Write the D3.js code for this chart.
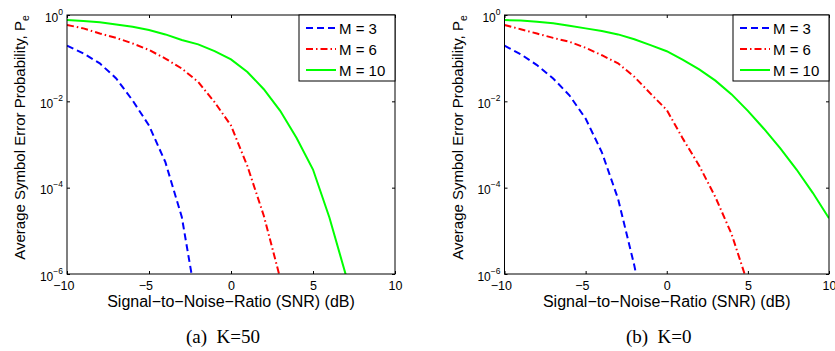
<!DOCTYPE html>
<html>
<head>
<meta charset="utf-8">
<script src="https://cdnjs.cloudflare.com/ajax/libs/d3/7.8.5/d3.min.js"></script>
<style>
    html, body { margin: 0; padding: 0; background: #ffffff; }
    svg { display: block; }
    text { font-family: "Liberation Sans", Arial, Helvetica, sans-serif; fill: #000; }
    .caption { font-family: "Liberation Serif", "Times New Roman", serif; white-space: pre; }
</style>
</head>
<body>
<div id="chart"></div>
<script>
const SNR_DB = [-10, -9, -8, -7, -6, -5, -4, -3, -2, -1, 0, 1, 2, 3, 4, 5, 6, 7, 8, 9, 10];

const X_TICKS = [-10, -5, 0, 5, 10];
const Y_TICKS = [1e-6, 1e-4, 1e-2, 1];
const Y_TICK_EXPONENTS = ['\u22126', '\u22124', '\u22122', '0'];

const SERIES_NAMES = ['M = 3', 'M = 6', 'M = 10'];
const SERIES_COLORS = ['#0000ff', '#ff0000', '#00ff00'];
const SERIES_DASHES = ['7,4', '7,3,1.5,3', null];

const PANEL_CAPTIONS = ['(a)  K=50', '(b)  K=0'];

// symbol error probability, starting at SNR = -10 dB
const K50_M3 = [0.195, 0.129, 0.0759, 0.0339, 0.0105, 2.75e-3, 3.89e-4, 2.09e-5, 1.26e-7];
const K50_M6 = [0.589, 0.490, 0.372, 0.295, 0.219, 0.155, 0.0977, 0.0575, 0.0282, 9.55e-3,
    2.75e-3, 3.16e-4, 2.24e-5, 7.94e-7];
const K50_M10 = [0.766, 0.724, 0.676, 0.603, 0.537, 0.447, 0.355, 0.263, 0.209, 0.145,
    0.0933, 0.0479, 0.0191, 6.03e-3, 1.41e-3, 2.63e-4, 2.04e-5, 9.55e-7];

const K0_M3 = [0.195, 0.123, 0.0692, 0.0339, 0.0138, 3.98e-3, 6.61e-4, 5.50e-5, 1.58e-6, 2.0e-8];
const K0_M6 = [0.589, 0.468, 0.372, 0.295, 0.240, 0.174, 0.117, 0.0759, 0.0372, 0.0151,
    6.31e-3, 1.35e-3, 3.24e-4, 6.03e-5, 8.32e-6, 5.89e-7];
const K0_M10 = [0.766, 0.741, 0.700, 0.646, 0.562, 0.490, 0.427, 0.355, 0.275, 0.200,
    0.145, 0.0912, 0.0550, 0.0302, 0.0145, 6.03e-3, 2.29e-3, 8.13e-4, 2.63e-4, 7.59e-5, 1.95e-5];

const WIDTH = 835;
const HEIGHT = 351;

function drawPanel(svg, panel, index) {
    const { left, right, top, bottom, series, caption } = panel;
    const g = svg.append('g');

    const xScale = d3.scaleLinear().domain([-10, 10]).range([left, right]);
    const yScale = d3.scaleLog().domain([1e-6, 1]).range([bottom, top]);

    const clipId = 'clip' + index;
    svg.append('clipPath')
        .attr('id', clipId)
        .append('rect')
        .attr('x', left)
        .attr('y', top)
        .attr('width', right - left)
        .attr('height', bottom - top);

    // curves
    const line = d3.line()
        .x((d, i) => xScale(SNR_DB[i]))
        .y(d => yScale(d));

    g.append('g')
        .attr('clip-path', `url(#${clipId})`)
        .selectAll('path')
        .data(series)
        .enter()
        .append('path')
        .attr('d', d => line(d))
        .attr('fill', 'none')
        .attr('stroke', (d, i) => SERIES_COLORS[i])
        .attr('stroke-width', 2)
        .attr('stroke-dasharray', (d, i) => SERIES_DASHES[i]);

    // axes, ticks point inward on all four sides
    const bottomAxis = g.append('g')
        .attr('transform', `translate(0,${bottom})`)
        .call(d3.axisBottom(xScale).tickValues(X_TICKS).tickSizeInner(-3).tickSizeOuter(0).tickPadding(7));
    bottomAxis.selectAll('text')
        .style('font-size', '12.5px')
        .attr('dx', d => d < 0 ? '-0.3em' : 0);

    g.append('g')
        .attr('transform', `translate(0,${top})`)
        .call(d3.axisTop(xScale).tickValues(X_TICKS).tickSizeInner(-3).tickSizeOuter(0).tickFormat(''));

    const leftAxis = g.append('g')
        .attr('transform', `translate(${left},0)`)
        .call(d3.axisLeft(yScale).tickValues(Y_TICKS).tickSizeInner(-3).tickSizeOuter(0).tickPadding(4));
    leftAxis.selectAll('.tick text')
        .each(function(d, i) {
            const t = d3.select(this);
            t.text('').attr('dy', null).attr('y', 6);
            t.append('tspan').style('font-size', '12px').text('10');
            t.append('tspan').style('font-size', '8.5px').attr('dy', -7).text(Y_TICK_EXPONENTS[i]);
        });

    g.append('g')
        .attr('transform', `translate(${right},0)`)
        .call(d3.axisRight(yScale).tickValues(Y_TICKS).tickSizeInner(-3).tickSizeOuter(0).tickFormat(''));

    g.selectAll('.domain').remove();
    g.selectAll('.tick line').attr('stroke', '#000');

    g.append('rect')
        .attr('x', left)
        .attr('y', top)
        .attr('width', right - left)
        .attr('height', bottom - top)
        .attr('fill', 'none')
        .attr('stroke', '#000')
        .attr('stroke-width', 1);

    // legend, top right corner
    const legendW = 96;
    const legendH = 66;
    const legend = g.append('g')
        .attr('transform', `translate(${right - legendW},${top})`);

    legend.append('rect')
        .attr('width', legendW)
        .attr('height', legendH)
        .attr('fill', '#fff')
        .attr('stroke', '#000')
        .attr('stroke-width', 1);

    const rows = legend.selectAll('.legend-row')
        .data(SERIES_NAMES)
        .enter()
        .append('g')
        .attr('class', 'legend-row')
        .attr('transform', (d, i) => `translate(0,${13 + i * 21})`);

    rows.append('line')
        .attr('x1', 7)
        .attr('x2', 37)
        .attr('stroke', (d, i) => SERIES_COLORS[i])
        .attr('stroke-width', 2)
        .attr('stroke-dasharray', (d, i) => SERIES_DASHES[i]);

    rows.append('text')
        .attr('x', 40)
        .attr('y', 5.5)
        .style('font-size', '15px')
        .text(d => d);

    // labels
    g.append('text')
        .attr('x', (left + right) / 2)
        .attr('y', 307)
        .attr('text-anchor', 'middle')
        .style('font-size', '16px')
        .text('Signal\u2212to\u2212Noise\u2212Ratio (SNR) (dB)');

    const yLabel = g.append('text')
        .attr('transform', `translate(${left - 42},${(top + bottom) / 2 - 7}) rotate(-90)`)
        .attr('text-anchor', 'middle')
        .style('font-size', '15px');
    yLabel.append('tspan').text('Average Symbol Error Probability, P');
    yLabel.append('tspan').attr('dy', 4).style('font-size', '10.5px').text('e');

    g.append('text')
        .attr('class', 'caption')
        .attr('x', (left + right) / 2 - 8)
        .attr('y', 343)
        .attr('text-anchor', 'middle')
        .style('font-size', '19px')
        .text(caption);
}

function initializeApp() {
    const svg = d3.select('#chart')
        .append('svg')
        .attr('width', WIDTH)
        .attr('height', HEIGHT);

    const panels = [
        { left: 67, right: 395, top: 15, bottom: 274, series: [K50_M3, K50_M6, K50_M10], caption: PANEL_CAPTIONS[0] },
        { left: 504.5, right: 829, top: 15, bottom: 274, series: [K0_M3, K0_M6, K0_M10], caption: PANEL_CAPTIONS[1] }
    ];

    panels.forEach((p, i) => drawPanel(svg, p, i));
}

document.addEventListener('DOMContentLoaded', initializeApp);
</script>
</body>
</html>
